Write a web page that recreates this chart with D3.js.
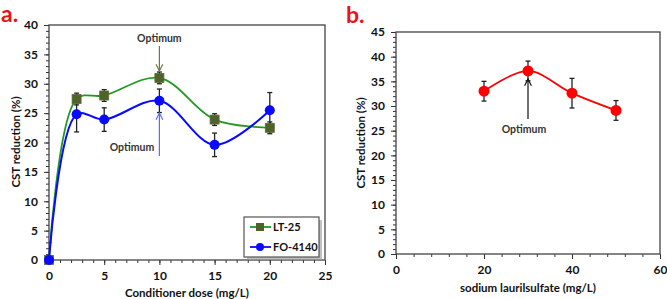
<!DOCTYPE html>
<html>
<head>
<meta charset="utf-8">
<script src="https://cdn.jsdelivr.net/npm/d3@7"></script>
<style>
  html, body { margin: 0; padding: 0; background: #fff; }
  svg { display: block; }
  text { font-family: Lato, "Open Sans", sans-serif; font-weight: bold; }
</style>
</head>
<body>
<svg id="chart" width="667" height="299"></svg>
<script>
// ---- Data (panel a) ----
const doseA = [0, 2.5, 5, 10, 15, 20];
const lt25 = [0, 27.4, 28, 31, 23.9, 22.5];
const lt25Err = [0, 1, 1, 1, 1, 1];
const fo4140 = [0, 24.8, 23.9, 27.1, 19.6, 25.5];
const fo4140Err = [3, 3, 2, 2, 2, 3];
const xTicksA = [0, 5, 10, 15, 20, 25];
const yTicksA = [0, 5, 10, 15, 20, 25, 30, 35, 40];

// ---- Data (panel b) ----
const doseB = [20, 30, 40, 50];
const sls = [33, 37.1, 32.6, 29.1];
const slsErr = [2, 2, 3, 2];
const xTicksB = [0, 20, 40, 60];
const yTicksB = [0, 5, 10, 15, 20, 25, 30, 35, 40, 45];

const svg = d3.select("#chart");

function frame(g, x, y, xTicks, yTicks, xMinorStep, yMinorStep) {
  const [x0, x1] = x.range();
  const [y0, y1] = y.range();
  const xd = x.domain(), yd = y.domain();
  g.append("g").attr("transform", `translate(0,${y0})`)
    .call(d3.axisBottom(x).tickValues(d3.range(xd[0], xd[1] + 0.001, xMinorStep)).tickSize(3).tickFormat(""))
    .call(s => s.select(".domain").remove())
    .selectAll("line").attr("stroke", "#333");
  g.append("g").attr("transform", `translate(${x0},0)`)
    .call(d3.axisLeft(y).tickValues(d3.range(yd[0], yd[1] + 0.001, yMinorStep)).tickSize(3).tickFormat(""))
    .call(s => s.select(".domain").remove())
    .selectAll("line").attr("stroke", "#333");
  const xa = g.append("g").attr("transform", `translate(0,${y0})`)
    .call(d3.axisBottom(x).tickValues(xTicks).tickSize(5).tickPadding(6));
  xa.select(".domain").remove();
  xa.selectAll("line").attr("stroke", "#333");
  xa.selectAll("text").attr("font-size", 12).attr("fill", "#111");
  const ya = g.append("g").attr("transform", `translate(${x0},0)`)
    .call(d3.axisLeft(y).tickValues(yTicks).tickSize(5).tickPadding(6));
  ya.select(".domain").remove();
  ya.selectAll("line").attr("stroke", "#333");
  ya.selectAll("text").attr("font-size", 12).attr("fill", "#111");
  g.append("rect").attr("x", x0).attr("y", y1).attr("width", x1 - x0).attr("height", y0 - y1)
    .attr("fill", "none").attr("stroke", "#444").attr("stroke-width", 1.3);
}

function errorBars(g, xs, ys, es, x, y, clipId) {
  const eg = g.append("g").attr("clip-path", `url(#${clipId})`);
  xs.forEach((xv, i) => {
    if (!es[i]) return;
    const cx = x(xv), top = y(ys[i] + es[i]), bot = y(ys[i] - es[i]);
    eg.append("line").attr("x1", cx).attr("x2", cx).attr("y1", top).attr("y2", bot)
      .attr("stroke", "#222").attr("stroke-width", 1.3);
    [top, bot].forEach(v => eg.append("line").attr("x1", cx - 2.5).attr("x2", cx + 2.5)
      .attr("y1", v).attr("y2", v).attr("stroke", "#222").attr("stroke-width", 1.3));
  });
}

const defs = svg.append("defs");
function arrowMarker(id, color) {
  defs.append("marker").attr("id", id).attr("viewBox", "0 0 10 10").attr("refX", 9).attr("refY", 5)
    .attr("markerWidth", 7).attr("markerHeight", 7).attr("orient", "auto")
    .append("path").attr("d", "M1,1 L9,5 L1,9").attr("fill", "none").attr("stroke", color).attr("stroke-width", 1.4);
}
arrowMarker("arrGreen", "#6b7a45");
arrowMarker("arrBlue", "#5b6bff");
arrowMarker("arrBlack", "#111");

// ================= Panel a =================
const xA = d3.scaleLinear().domain([0, 25]).range([49, 325]);
const yA = d3.scaleLinear().domain([0, 40]).range([260, 25]);
defs.append("clipPath").attr("id", "clipA").append("rect")
  .attr("x", 49).attr("y", 25).attr("width", 276).attr("height", 235);

const gA = svg.append("g");
frame(gA, xA, yA, xTicksA, yTicksA, 1, 1);

svg.append("text").attr("x", 1).attr("y", 22).attr("fill", "#e8141b")
  .attr("font-size", 23).attr("font-family", "Lato, sans-serif").attr("font-weight", 900).text("a.");

svg.append("text").attr("transform", `translate(20,142) rotate(-90)`).attr("text-anchor", "middle")
  .attr("font-size", 11.5).attr("fill", "#111").text("CST reduction (%)");
svg.append("text").attr("x", 187).attr("y", 297).attr("text-anchor", "middle")
  .attr("font-size", 11.5).attr("fill", "#111").text("Conditioner dose (mg/L)");

errorBars(gA, doseA, lt25, lt25Err, xA, yA, "clipA");
errorBars(gA, doseA, fo4140, fo4140Err, xA, yA, "clipA");

const lineA = (vals) => d3.line().x((d, i) => xA(doseA[i])).y(d => yA(d)).curve(d3.curveCatmullRom.alpha(0.5))(vals);
gA.append("path").attr("d", lineA(lt25)).attr("fill", "none").attr("stroke", "#1f9a1f").attr("stroke-width", 1.8);
gA.append("path").attr("d", lineA(fo4140)).attr("fill", "none").attr("stroke", "#0a0aff").attr("stroke-width", 2);

gA.selectAll(".sq").data(lt25).enter().append("rect")
  .attr("x", (d, i) => xA(doseA[i]) - 4.5).attr("y", d => yA(d) - 4.5)
  .attr("width", 9).attr("height", 9).attr("fill", "#4f6228").attr("stroke", "#5d6b3a").attr("stroke-width", 0.8);
gA.selectAll(".ci").data(fo4140).enter().append("circle")
  .attr("cx", (d, i) => xA(doseA[i])).attr("cy", d => yA(d)).attr("r", 5).attr("fill", "#0a0aff");

svg.append("text").attr("x", xA(10)).attr("y", 42).attr("text-anchor", "middle")
  .attr("font-size", 10.5).attr("fill", "#333").text("Optimum");
svg.append("line").attr("x1", xA(10)).attr("x2", xA(10)).attr("y1", 46).attr("y2", 71)
  .attr("stroke", "#6b7a45").attr("stroke-width", 1.2).attr("marker-end", "url(#arrGreen)");
svg.append("text").attr("x", 132).attr("y", 151).attr("text-anchor", "middle")
  .attr("font-size", 10.5).attr("fill", "#333").text("Optimum");
svg.append("line").attr("x1", xA(10)).attr("x2", xA(10)).attr("y1", 156).attr("y2", 113)
  .attr("stroke", "#5b6bff").attr("stroke-width", 1.2).attr("marker-end", "url(#arrBlue)");

const lg = svg.append("g").attr("transform", "translate(244,217)");
lg.append("rect").attr("x", 3).attr("y", 3).attr("width", 75).attr("height", 40).attr("fill", "#9a9a9a").attr("opacity", 0.6);
lg.append("rect").attr("x", 0).attr("y", 0).attr("width", 75).attr("height", 40).attr("fill", "#fff").attr("stroke", "#444").attr("stroke-width", 1.1);
const legItems = [
  { name: "LT-25", color: "#1f9a1f", shape: "sq" },
  { name: "FO-4140", color: "#0a0aff", shape: "ci" }
];
legItems.forEach((it, i) => {
  const yy = 10 + i * 20;
  lg.append("line").attr("x1", 6).attr("x2", 27).attr("y1", yy).attr("y2", yy).attr("stroke", it.color).attr("stroke-width", 1.8);
  if (it.shape === "sq") lg.append("rect").attr("x", 12).attr("y", yy - 4).attr("width", 8).attr("height", 8).attr("fill", "#4f6228");
  else lg.append("circle").attr("cx", 16).attr("cy", yy).attr("r", 4).attr("fill", "#0a0aff");
  lg.append("text").attr("x", 29).attr("y", yy + 4).attr("font-size", 11).attr("fill", "#111").text(it.name);
});

// ================= Panel b =================
const xB = d3.scaleLinear().domain([0, 60]).range([396, 660]);
const yB = d3.scaleLinear().domain([0, 45]).range([254, 32]);
defs.append("clipPath").attr("id", "clipB").append("rect")
  .attr("x", 396).attr("y", 32).attr("width", 264).attr("height", 222);

const gB = svg.append("g");
frame(gB, xB, yB, xTicksB, yTicksB, 4, 1);

svg.append("text").attr("x", 346).attr("y", 23).attr("fill", "#e8141b")
  .attr("font-size", 23).attr("font-family", "Lato, sans-serif").attr("font-weight", 900).text("b.");

svg.append("text").attr("transform", `translate(365,143) rotate(-90)`).attr("text-anchor", "middle")
  .attr("font-size", 11.5).attr("fill", "#111").text("CST reduction (%)");
svg.append("text").attr("x", 528).attr("y", 292).attr("text-anchor", "middle")
  .attr("font-size", 11.5).attr("fill", "#111").text("sodium laurilsulfate (mg/L)");

errorBars(gB, doseB, sls, slsErr, xB, yB, "clipB");
const lineB = d3.line().x((d, i) => xB(doseB[i])).y(d => yB(d)).curve(d3.curveCatmullRom.alpha(0.5));
gB.append("path").attr("d", lineB(sls)).attr("fill", "none").attr("stroke", "#ff0000").attr("stroke-width", 1.8);
gB.selectAll(".rc").data(sls).enter().append("circle")
  .attr("cx", (d, i) => xB(doseB[i])).attr("cy", d => yB(d)).attr("r", 5.5).attr("fill", "#ff0000");

svg.append("text").attr("x", 524).attr("y", 133).attr("text-anchor", "middle")
  .attr("font-size", 10.5).attr("fill", "#333").text("Optimum");
svg.append("line").attr("x1", xB(30)).attr("x2", xB(30)).attr("y1", 119).attr("y2", 79)
  .attr("stroke", "#111").attr("stroke-width", 1.2).attr("marker-end", "url(#arrBlack)");
</script>
</body>
</html>
